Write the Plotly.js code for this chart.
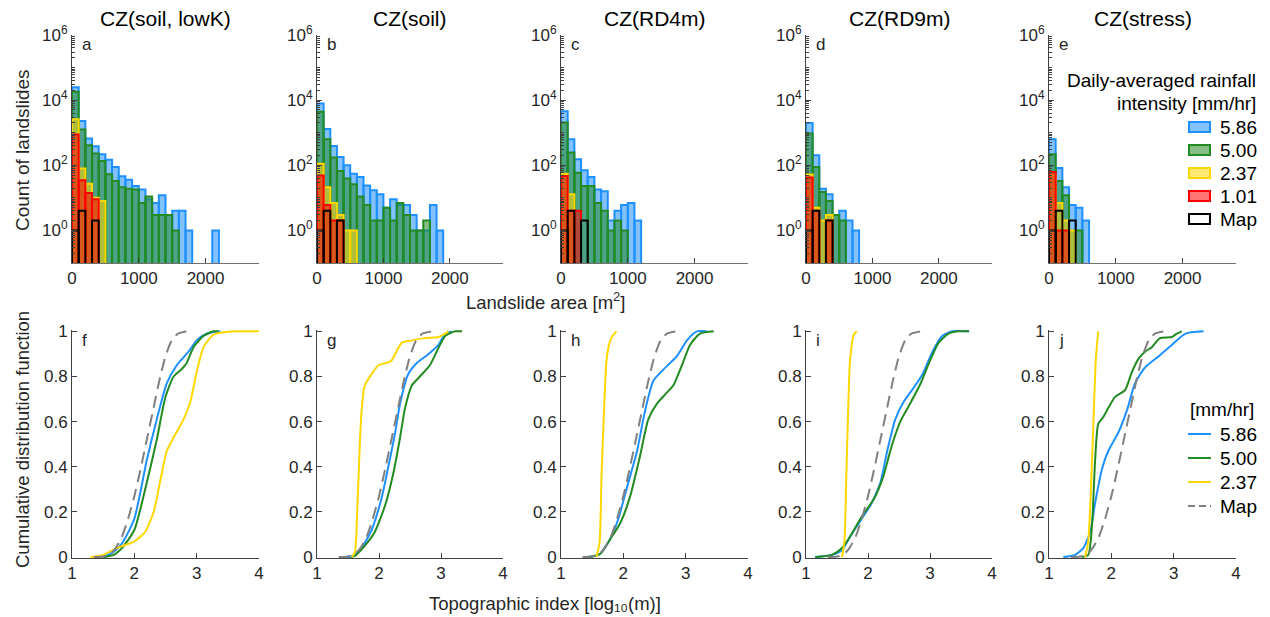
<!DOCTYPE html>
<html><head><meta charset="utf-8">
<script src="https://cdn.plot.ly/plotly-3.0.1.min.js"></script>
<style>html,body{margin:0;padding:0;background:#fff}#chart{width:1270px;height:617px}</style>
</head><body><div id="chart"></div>
<script>
// ---------- DATA ----------
const panelTitles = ['CZ(soil, lowK)', 'CZ(soil)', 'CZ(RD4m)', 'CZ(RD9m)', 'CZ(stress)'];
const topLetters = ['a', 'b', 'c', 'd', 'e'];
const bottomLetters = ['f', 'g', 'h', 'i', 'j'];
const seriesNames = ['5.86', '5.00', '2.37', '1.01', 'Map'];
const binCenters = [50,150,250,350,450,550,650,750,850,950,1050,1150,1250,1350,1450,1550,1650,1750,1850,1950,2050,2150];

// histogram counts per bin (0 = empty bin)
const countA586 = [25000,2300,660,383,218,149,89,46,36,23,18,9,7,12,3,4,4,1,0,0,0,1];
const countA500 = [18000,1250,413,230,136,53,33,21,19,18,7,11,3,3,3,1];
const countA237 = [2600,79,27,10,8];
const countA101 = [880,35,14,9];
const countB586 = [7900,1290,390,180,100,55,44,24,17,13,5,9,6,6,3,1,1,6,1];
const countB500 = [4400,630,173,67,39,26,11,6,2,2,5,2,7,3,1,1,2];
const countB237 = [112,21,7,3,1,1];
const countB101 = [49,6,2,2];
const countC586 = [4600,630,152,70,44,18,16,2,4,6,7,2];
const countC500 = [2050,245,59,23,23,7,4,1,2,1];
const countC237 = [55,13];
const countC101 = [47,4,4];
const countD586 = [2000,204,19,13,3,4,2,1];
const countD500 = [940,89,15,8,3,2];
const countD237 = [52,5,2,3];
const countD101 = [42,4,0,2];
const countE586 = [630,83,21,6,5,2];
const countE500 = [218,33,12,1,1];
const countE237 = [50,7,2,1];
const countE101 = [62,1,1];
const countMap = [1,4,0,2];

// cumulative distribution functions (topographic index, CDF)
const cdfMapX = [1.35,1.5,1.6,1.7,1.8,1.9,2.0,2.1,2.2,2.3,2.4,2.5,2.6,2.7,2.85];
const cdfMapY = [0,0.003,0.01,0.04,0.09,0.17,0.27,0.39,0.52,0.65,0.78,0.89,0.96,0.99,1.0];

const cdfF586X = [1.5,1.65,1.8,2.0,2.2,2.36,2.52,2.68,2.87,3.0,3.16,3.38];
const cdfF586Y = [0,0.02,0.06,0.17,0.43,0.61,0.77,0.85,0.91,0.96,0.99,1.0];
const cdfF500X = [1.5,1.67,1.8,2.0,2.2,2.36,2.5,2.63,2.75,2.84,2.95,3.11,3.27,3.35];
const cdfF500Y = [0,0.01,0.04,0.12,0.33,0.52,0.71,0.80,0.83,0.86,0.93,0.98,1.0,1.0];
const cdfF237X = [1.3,1.5,1.72,2.0,2.17,2.31,2.41,2.52,2.63,2.79,2.9,3.0,3.11,3.27,3.59,4.0];
const cdfF237Y = [0,0.01,0.04,0.07,0.11,0.20,0.33,0.47,0.53,0.61,0.69,0.82,0.93,0.985,1.0,1.0];

const cdfG586X = [1.45,1.58,1.72,1.88,2.04,2.15,2.26,2.34,2.47,2.61,2.8,2.96,3.07,3.17];
const cdfG586Y = [0,0.005,0.04,0.12,0.26,0.40,0.55,0.68,0.81,0.86,0.90,0.94,0.99,1.0];
const cdfG500X = [1.55,1.61,1.77,1.93,2.1,2.23,2.34,2.42,2.53,2.66,2.82,2.93,3.07,3.23,3.34];
const cdfG500Y = [0,0.005,0.05,0.11,0.23,0.37,0.53,0.66,0.76,0.80,0.85,0.91,0.98,1.0,1.0];
const cdfG237X = [1.56,1.61,1.65,1.69,1.72,1.77,1.88,1.99,2.12,2.2,2.28,2.37,2.53,2.74,2.96,3.04,3.12];
const cdfG237Y = [0,0.02,0.21,0.50,0.65,0.76,0.81,0.85,0.86,0.87,0.91,0.95,0.96,0.97,0.975,0.985,1.0];

const cdfH586X = [1.35,1.5,1.63,1.79,1.92,2.06,2.22,2.35,2.48,2.64,2.86,3.02,3.18,3.34];
const cdfH586Y = [0,0.003,0.015,0.08,0.17,0.31,0.47,0.65,0.78,0.83,0.89,0.96,1.0,1.0];
const cdfH500X = [1.35,1.5,1.63,1.79,1.95,2.11,2.27,2.4,2.54,2.67,2.8,2.94,3.07,3.23,3.45];
const cdfH500Y = [0,0.003,0.015,0.08,0.15,0.27,0.45,0.61,0.68,0.72,0.76,0.85,0.94,0.99,1.0];
const cdfH237X = [1.57,1.62,1.65,1.69,1.73,1.78,1.84,1.89];
const cdfH237Y = [0,0.07,0.36,0.65,0.87,0.95,0.985,1.0];

const cdfI586X = [1.15,1.42,1.58,1.71,1.9,2.06,2.2,2.31,2.44,2.58,2.71,2.88,3.04,3.2,3.36,3.63];
const cdfI586Y = [0,0.01,0.03,0.09,0.17,0.24,0.33,0.47,0.61,0.69,0.74,0.81,0.91,0.98,1.0,1.0];
const cdfI500X = [1.15,1.42,1.58,1.71,1.9,2.1,2.25,2.38,2.52,2.68,2.85,3.0,3.14,3.3,3.45,3.63];
const cdfI500Y = [0,0.01,0.04,0.09,0.18,0.26,0.36,0.49,0.60,0.68,0.77,0.87,0.95,0.99,1.0,1.0];
const cdfI237X = [1.58,1.62,1.65,1.68,1.71,1.77,1.82];
const cdfI237Y = [0,0.07,0.36,0.65,0.87,0.985,1.0];

const cdfJ586X = [1.23,1.42,1.55,1.66,1.74,1.85,1.95,2.11,2.25,2.38,2.54,2.76,2.97,3.19,3.48];
const cdfJ586Y = [0,0.01,0.04,0.11,0.24,0.39,0.47,0.55,0.65,0.77,0.84,0.89,0.94,0.99,1.0];
const cdfJ500X = [1.52,1.63,1.69,1.74,1.79,1.87,1.95,2.06,2.22,2.33,2.44,2.54,2.65,2.78,2.97,3.05,3.13];
const cdfJ500Y = [0,0.01,0.14,0.43,0.59,0.62,0.66,0.71,0.74,0.82,0.88,0.91,0.93,0.97,0.975,0.99,1.0];
const cdfJ237X = [1.58,1.63,1.67,1.71,1.75,1.79];
const cdfJ237Y = [0,0.07,0.28,0.58,0.87,1.0];

// ---------- STYLE / LAYOUT ----------
const W = 1270, H = 617;
const FONT = 'Liberation Sans, Arial, Helvetica, sans-serif';
const TXT = '#262626';
const AX = '#404040';
const colBlue = 'rgb(30,144,255)', colGreen = 'rgb(34,139,34)', colYellow = 'rgb(255,215,0)', colRed = 'rgb(255,0,0)', colGray = 'rgb(128,128,128)';
const fillA = 0.55;
const rgba = (c, a) => c.replace('rgb(', 'rgba(').replace(')', ',' + a + ')');

const colsPx = [[72,259],[317,503],[561,748],[806,992],[1049,1236]];
const topPx = [35, 263], botPx = [330, 558];
const px = x => x / W, py = y => 1 - y / H;

const histSets = [
  [countA586, countA500, countA237, countA101],
  [countB586, countB500, countB237, countB101],
  [countC586, countC500, countC237, countC101],
  [countD586, countD500, countD237, countD101],
  [countE586, countE500, countE237, countE101]
];
const cdfSets = [
  [[cdfF586X,cdfF586Y],[cdfF500X,cdfF500Y],[cdfF237X,cdfF237Y]],
  [[cdfG586X,cdfG586Y],[cdfG500X,cdfG500Y],[cdfG237X,cdfG237Y]],
  [[cdfH586X,cdfH586Y],[cdfH500X,cdfH500Y],[cdfH237X,cdfH237Y]],
  [[cdfI586X,cdfI586Y],[cdfI500X,cdfI500Y],[cdfI237X,cdfI237Y]],
  [[cdfJ586X,cdfJ586Y],[cdfJ500X,cdfJ500Y],[cdfJ237X,cdfJ237Y]]
];
const histColors = [colBlue, colGreen, colYellow, colRed];
const cdfColors = [colBlue, colGreen, colYellow];

const traces = [];
const layout = {
  width: W, height: H, margin: {l:0, r:0, t:0, b:0},
  paper_bgcolor: '#fff', plot_bgcolor: 'rgba(0,0,0,0)',
  barmode: 'overlay', showlegend: false,
  font: {family: FONT, color: TXT, size: 17},
  annotations: [], shapes: []
};

const minorLog = [];
for (let k = -1; k < 6; k++) for (let d = 2; d <= 10; d++) {
  const v = d * Math.pow(10, k);
  if (d === 10 && (k + 1) % 2 === 0) continue;
  minorLog.push(v);
}

function axName(i) { return i === 1 ? '' : String(i); }

for (let p = 0; p < 5; p++) {
  const ti = p + 1, bi = p + 6;
  const xa = 'xaxis' + axName(ti), ya = 'yaxis' + axName(ti);
  const xb = 'xaxis' + axName(bi), yb = 'yaxis' + axName(bi);
  const dom = [px(colsPx[p][0]), px(colsPx[p][1])];
  const common = {showline: true, linecolor: AX, linewidth: 1, ticks: 'inside', ticklen: 5, tickcolor: AX,
                  showgrid: false, zeroline: false, tickfont: {family: FONT, size: 17, color: TXT}, fixedrange: true};
  layout[xa] = Object.assign({}, common, {domain: dom, anchor: 'y' + axName(ti), range: [0, 2800],
                  tickvals: [0, 1000, 2000], ticktext: ['0', '1000', '2000'], linecolor: '#707070'});
  layout[ya] = Object.assign({}, common, {domain: [py(topPx[1]), py(topPx[0])], anchor: 'x' + axName(ti), type: 'log',
                  range: [-1, 6], tickvals: [1, 100, 1e4, 1e6],
                  ticktext: ['10<sup>0</sup>', '10<sup>2</sup>', '10<sup>4</sup>', '10<sup>6</sup>'],
                  minor: {tickmode: 'array', tickvals: minorLog, ticks: 'inside', ticklen: 2.5, tickcolor: AX}});
  layout[xb] = Object.assign({}, common, {domain: dom, anchor: 'y' + axName(bi), range: [1, 4],
                  tickvals: [1, 2, 3, 4], ticktext: ['1', '2', '3', '4']});
  layout[yb] = Object.assign({}, common, {domain: [py(botPx[1]), py(botPx[0])], anchor: 'x' + axName(bi),
                  range: [-0.004, 1.006], tickvals: [0, 0.2, 0.4, 0.6, 0.8, 1],
                  ticktext: ['0', '0.2', '0.4', '0.6', '0.8', '1']});

  // histograms
  histSets[p].forEach((arr, s) => {
    traces.push({
      type: 'bar', x: binCenters.slice(0, arr.length), y: arr.map(v => v > 0 ? v : null), width: 100,
      xaxis: 'x' + axName(ti), yaxis: 'y' + axName(ti), name: seriesNames[s],
      marker: {color: rgba(histColors[s], fillA), line: {color: histColors[s], width: 2}},
      hoverinfo: 'skip'
    });
  });
  traces.push({
    type: 'bar', x: binCenters.slice(0, countMap.length), y: countMap.map(v => v > 0 ? v : null), width: 100,
    xaxis: 'x' + axName(ti), yaxis: 'y' + axName(ti), name: 'Map',
    marker: {color: 'rgba(0,0,0,0)', line: {color: '#000', width: 2}}, hoverinfo: 'skip'
  });

  // CDFs
  cdfSets[p].forEach((xy, s) => {
    traces.push({
      type: 'scatter', mode: 'lines', x: xy[0], y: xy[1],
      xaxis: 'x' + axName(bi), yaxis: 'y' + axName(bi), name: seriesNames[s],
      line: {color: cdfColors[s], width: 2, shape: 'spline', smoothing: 0.6}, hoverinfo: 'skip'
    });
  });
  traces.push({
    type: 'scatter', mode: 'lines', x: cdfMapX, y: cdfMapY,
    xaxis: 'x' + axName(bi), yaxis: 'y' + axName(bi), name: 'Map',
    line: {color: colGray, width: 2, dash: '12px,7px', shape: 'spline', smoothing: 0.6}, hoverinfo: 'skip'
  });

  // titles and panel letters
  const cx = (colsPx[p][0] + colsPx[p][1]) / 2;
  layout.annotations.push({xref: 'paper', yref: 'paper', x: px(cx), y: py(18), text: panelTitles[p],
    showarrow: false, xanchor: 'center', yanchor: 'middle', font: {family: FONT, size: 21, color: '#000'}});
  layout.annotations.push({xref: 'paper', yref: 'paper', x: px(colsPx[p][0] + 8), y: py(45), text: topLetters[p],
    showarrow: false, xanchor: 'left', yanchor: 'middle', font: {family: FONT, size: 17, color: TXT}});
  layout.annotations.push({xref: 'paper', yref: 'paper', x: px(colsPx[p][0] + 8), y: py(340), text: bottomLetters[p],
    showarrow: false, xanchor: 'left', yanchor: 'middle', font: {family: FONT, size: 17, color: TXT}});
}

// axis titles
const ann = (x, y, text, opts) => layout.annotations.push(Object.assign({xref: 'paper', yref: 'paper', x: px(x), y: py(y), text,
  showarrow: false, xanchor: 'center', yanchor: 'middle', font: {family: FONT, size: 18.5, color: TXT}}, opts || {}));
ann(22, 150, 'Count of landslides', {textangle: -90, font: {family: FONT, size: 19, color: TXT}});
ann(22, 440, 'Cumulative distribution function', {textangle: -90});
ann(545, 301, 'Landslide area [m<sup>2</sup>]');
ann(545, 603, 'Topographic index [log₁₀(m)]');

// top legend
const LF = {family: FONT, size: 19, color: '#000'};
ann(1258, 80, 'Daily-averaged rainfall', {xanchor: 'right', font: LF});
ann(1258, 103, 'intensity [mm/hr]', {xanchor: 'right', font: LF});
const legTopY = [127, 150, 173, 196, 219];
const legTopCol = [colBlue, colGreen, colYellow, colRed, '#000'];
legTopY.forEach((y, i) => {
  layout.shapes.push({type: 'rect', xref: 'paper', yref: 'paper', x0: px(1189), x1: px(1210), y0: py(y - 5), y1: py(y + 5),
    fillcolor: i < 4 ? rgba(legTopCol[i], fillA) : 'rgba(0,0,0,0)', line: {color: legTopCol[i], width: 2}});
  ann(1218, y, seriesNames[i], {xanchor: 'left', font: LF});
});

// bottom legend
ann(1256, 409, '[mm/hr]', {xanchor: 'right', font: LF});
const legBotY = [434, 458, 482, 506];
const legBotNames = ['5.86', '5.00', '2.37', 'Map'];
const legBotCol = [colBlue, colGreen, colYellow, colGray];
legBotY.forEach((y, i) => {
  layout.shapes.push({type: 'line', xref: 'paper', yref: 'paper', x0: px(1188), x1: px(1211), y0: py(y), y1: py(y),
    line: {color: legBotCol[i], width: 2, dash: i === 3 ? '7px,4px' : 'solid'}});
  ann(1218, y, legBotNames[i], {xanchor: 'left', font: LF});
});

Plotly.newPlot('chart', traces, layout, {staticPlot: true, displayModeBar: false});
</script>
</body></html>
